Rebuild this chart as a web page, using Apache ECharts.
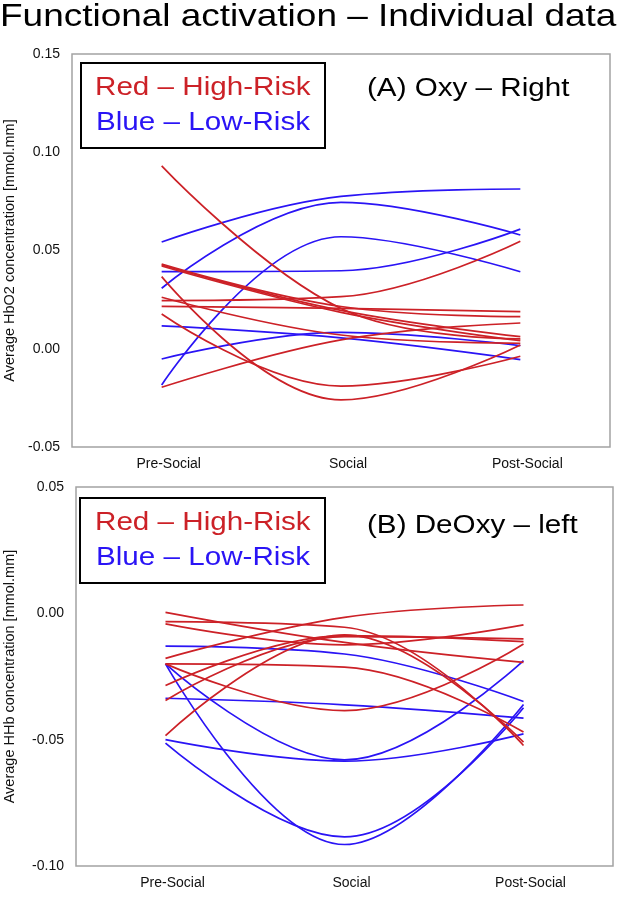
<!DOCTYPE html>
<html>
<head>
<meta charset="utf-8">
<script src="https://cdn.jsdelivr.net/npm/echarts@6/dist/echarts.min.js"></script>
<style>
html,body{margin:0;padding:0;background:#ffffff;}
#chart{width:621px;height:900px;}
</style>
</head>
<body>
<div id="chart"></div>
<script>
// ---------- data ----------
const categories = ['Pre-Social', 'Social', 'Post-Social'];

const oxyTicks = [-0.05, 0.00, 0.05, 0.10, 0.15];
const deoxyTicks = [-0.10, -0.05, 0.00, 0.05];

// (A) Oxy - Right : each row = [Pre-Social, Social, Post-Social]
const oxyHighRisk = [
  [0.0931, 0.0205, 0.0050],
  [0.0431, 0.0215, 0.0163],
  [0.0426, 0.0195, 0.0062],
  [0.0421, 0.0185, 0.0041],
  [0.0367, -0.0260, 0.0019],
  [0.0262, 0.0070, 0.0028],
  [0.0245, 0.0265, 0.0547],
  [0.0216, 0.0205, 0.0189],
  [0.0177, -0.0190, -0.0038],
  [-0.0196, 0.0045, 0.0131]
];
const oxyLowRisk = [
  [0.0543, 0.0775, 0.0813],
  [0.0308, 0.0745, 0.0579],
  [-0.0184, 0.0570, 0.0392],
  [0.0392, 0.0397, 0.0609],
  [0.0116, 0.0055, -0.0055],
  [-0.0052, 0.0083, 0.0016]
];

// (B) DeOxy - left
const deoxyHighRisk = [
  [0.0004, -0.0115, -0.0194],
  [-0.0033, -0.0055, -0.0523],
  [-0.0042, -0.0125, -0.0046],
  [-0.0178, -0.0016, 0.0033],
  [-0.0200, -0.0213, -0.0470],
  [-0.0200, -0.0385, -0.0121],
  [-0.0286, -0.0088, -0.0112],
  [-0.0345, -0.0092, -0.0101],
  [-0.0484, -0.0085, -0.0510]
];
const deoxyLowRisk = [
  [-0.0130, -0.0161, -0.0349],
  [-0.0200, -0.0580, -0.0187],
  [-0.0200, -0.0915, -0.0361],
  [-0.0336, -0.0362, -0.0415],
  [-0.0500, -0.0585, -0.0477],
  [-0.0514, -0.0885, -0.0374]
];

// ---------- styling ----------
const RED = '#cc2127';
const BLUE = '#2a14f5';
const FONT = '"Liberation Sans", Arial, Helvetica, sans-serif';
const STRETCH = 1.185;

function makeSeries(rows, color, idx) {
  return rows.map(r => ({
    type: 'line',
    xAxisIndex: idx,
    yAxisIndex: idx,
    data: r,
    smooth: 0.4,
    symbol: 'none',
    silent: true,
    lineStyle: { color: color, width: 1.7 }
  }));
}

function xAxisCfg(gridIndex) {
  return {
    type: 'category',
    gridIndex: gridIndex,
    data: categories,
    boundaryGap: true,
    axisLine: { show: false },
    axisTick: { show: false },
    splitLine: { show: false },
    axisLabel: {
      color: '#111', fontSize: 14, fontFamily: FONT, margin: 10,
      padding: [0, 0, 0, 14]
    }
  };
}

function yAxisCfg(gridIndex, ticks, name, gap) {
  const step = +(ticks[1] - ticks[0]).toFixed(4);
  return {
    type: 'value',
    gridIndex: gridIndex,
    min: ticks[0],
    max: ticks[ticks.length - 1],
    interval: step,
    name: name,
    nameLocation: 'middle',
    nameGap: gap,
    nameTextStyle: { color: '#111', fontSize: 14.5, fontFamily: FONT },
    axisLine: { show: false },
    axisTick: { show: false },
    splitLine: { show: false },
    axisLabel: {
      color: '#111', fontSize: 14, fontFamily: FONT, margin: 12,
      formatter: v => v.toFixed(2)
    }
  };
}

function txt(x, y, text, color, size, sx) {
  return {
    type: 'text', x: x, y: y, scaleX: sx || STRETCH, silent: true,
    style: {
      text: text, fill: color, fontSize: size, fontFamily: FONT,
      align: 'left', verticalAlign: 'middle'
    }
  };
}

const chart = echarts.init(document.getElementById('chart'), null, { renderer: 'canvas' });

const gridBase = {
  show: true, borderColor: '#a3a3a3', borderWidth: 1.5,
  backgroundColor: 'transparent', containLabel: false, outerBoundsMode: 'none'
};

chart.setOption({
  animation: false,
  backgroundColor: '#ffffff',
  grid: [
    Object.assign({ left: 72, top: 54, width: 538, height: 393 }, gridBase),
    Object.assign({ left: 76, top: 487, width: 537, height: 379 }, gridBase)
  ],
  xAxis: [xAxisCfg(0), xAxisCfg(1)],
  yAxis: [
    yAxisCfg(0, oxyTicks, 'Average HbO2 concentration [mmol.mm]', 55),
    yAxisCfg(1, deoxyTicks, 'Average HHb concentration [mmol.mm]', 59)
  ],
  series: [].concat(
    makeSeries(oxyLowRisk, BLUE, 0),
    makeSeries(oxyHighRisk, RED, 0),
    makeSeries(deoxyLowRisk, BLUE, 1),
    makeSeries(deoxyHighRisk, RED, 1)
  ),
  graphic: [
    txt(0, 17, 'Functional activation \u2013 Individual data', '#000', 32, 1.155),
    { type: 'rect', silent: true, shape: { x: 81, y: 63, width: 244, height: 85 },
      style: { fill: '#fff', stroke: '#000', lineWidth: 2 } },
    txt(95, 88, 'Red \u2013 High-Risk', RED, 25),
    txt(96, 123, 'Blue \u2013 Low-Risk', BLUE, 25),
    txt(367, 89, '(A) Oxy \u2013 Right', '#000', 25),
    { type: 'rect', silent: true, shape: { x: 80, y: 498, width: 245, height: 85 },
      style: { fill: '#fff', stroke: '#000', lineWidth: 2 } },
    txt(95, 523, 'Red \u2013 High-Risk', RED, 25),
    txt(96, 558, 'Blue \u2013 Low-Risk', BLUE, 25),
    txt(367, 526, '(B) DeOxy \u2013 left', '#000', 25)
  ]
});
</script>
</body>
</html>
